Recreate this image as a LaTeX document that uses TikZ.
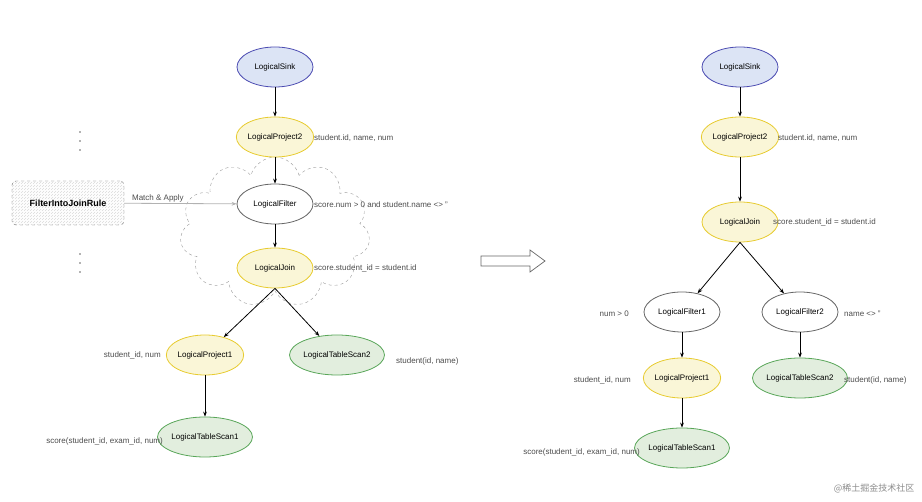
\documentclass[tikz,border=0pt]{standalone}
\usepackage{fontspec}
\setmainfont{Liberation Sans}
\newfontfamily\cjk{Noto Sans CJK SC}
\usetikzlibrary{shapes.symbols,shapes.geometric,arrows.meta,patterns}
\definecolor{sinkblue}{RGB}{220,228,245}
\definecolor{projyellow}{RGB}{250,246,215}
\definecolor{scangreen}{RGB}{226,238,222}
\tikzstyle{n}=[ellipse,draw=black!70,line width=0.8pt,minimum width=76pt,minimum height=40pt,inner sep=0pt,font=\footnotesize]
\tikzstyle{sink}=[n,fill=sinkblue,draw=blue!40!gray]
\tikzstyle{proj}=[n,fill=projyellow,draw=yellow!60!brown]
\tikzstyle{scan}=[n,fill=scangreen,draw=green!30!gray]
\tikzstyle{filt}=[n,fill=white,draw=black!60]
\tikzstyle{lbl}=[font=\footnotesize,text=black!70,inner sep=1pt]
\tikzstyle{e}=[-{Stealth[length=5pt]},line width=0.8pt]
\begin{document}
\begin{tikzpicture}[x=1pt,y=-1pt]
  \useasboundingbox (0,0) rectangle (922,502);

  % left tree
  \node[cloud,cloud puffs=11,aspect=1.3,draw=black!40,dashed,minimum width=190pt,minimum height=150pt] (cloud) at (275,232) {};
  \node[sink] (lsink) at (275,67) {LogicalSink};
  \node[proj] (lproj2) at (275,137) {LogicalProject2};
  \node[filt] (lfilter) at (275,204) {LogicalFilter};
  \node[proj] (ljoin) at (275,268) {LogicalJoin};
  \node[proj] (lproj1) at (205,355) {LogicalProject1};
  \node[scan] (lscan2) at (337,355) {LogicalTableScan2};
  \node[scan] (lscan1) at (205,437) {LogicalTableScan1};

  \node[lbl,anchor=west] at (313,138) {student.id, name, num};
  \node[lbl,anchor=west] at (313,205) {score.num > 0 and student.name <> ''};
  \node[lbl,anchor=west] at (313,268) {score.student\_id = student.id};
  \node[lbl,anchor=east] at (162,355) {student\_id, num};
  \node[lbl,anchor=west] at (395,361) {student(id, name)};
  \node[lbl,anchor=east] at (164,441) {score(student\_id, exam\_id, num)};

  \draw[e] (lsink) -- (lproj2);
  \draw[e] (lproj2) -- (lfilter);
  \draw[e] (lfilter) -- (ljoin);
  \draw[e] (ljoin.south) -- (lproj1);
  \draw[e] (ljoin.south) -- (lscan2);
  \draw[e] (lproj1) -- (lscan1);

  % rule
  \node[draw=black!60,dashed,rounded corners=4pt,pattern=north east lines,pattern color=black!15,minimum width=112pt,minimum height=44pt,font=\small\bfseries] (rule) at (68,203) {FilterIntoJoinRule};
  \draw[-{Stealth[length=5pt]},black!30,line width=0.8pt] (rule) -- node[lbl,above,pos=0.3] {Match \& Apply} (lfilter);
  \foreach \y in {132,141,150,254,263,272}
    \fill[black!60] (80,\y) circle (0.8pt);

  % transform arrow
  \draw[black!60,line width=0.7pt] (481,256) -- (530,256) -- (530,250) -- (545,261) -- (530,272) -- (530,266) -- (481,266) -- cycle;

  % right tree
  \node[sink] (rsink) at (740,67) {LogicalSink};
  \node[proj] (rproj2) at (740,137) {LogicalProject2};
  \node[proj] (rjoin) at (740,222) {LogicalJoin};
  \node[filt] (rfilter1) at (682,312) {LogicalFilter1};
  \node[filt] (rfilter2) at (800,312) {LogicalFilter2};
  \node[proj] (rproj1) at (682,378) {LogicalProject1};
  \node[scan] (rscan2) at (800,378) {LogicalTableScan2};
  \node[scan] (rscan1) at (682,448) {LogicalTableScan1};

  \node[lbl,anchor=west] at (777,138) {student.id, name, num};
  \node[lbl,anchor=west] at (772,222) {score.student\_id = student.id};
  \node[lbl,anchor=east] at (630,314) {num > 0};
  \node[lbl,anchor=west] at (843,314) {name <> ''};
  \node[lbl,anchor=east] at (632,380) {student\_id, num};
  \node[lbl,anchor=west] at (843,380) {student(id, name)};
  \node[lbl,anchor=east] at (641,452) {score(student\_id, exam\_id, num)};

  \draw[e] (rsink) -- (rproj2);
  \draw[e] (rproj2) -- (rjoin);
  \draw[e] (rjoin.south) -- (rfilter1);
  \draw[e] (rjoin.south) -- (rfilter2);
  \draw[e] (rfilter1) -- (rproj1);
  \draw[e] (rfilter2) -- (rscan2);
  \draw[e] (rproj1) -- (rscan1);

  \node[font=\cjk\small,text=black!45,anchor=east] at (918,488) {@稀土掘金技术社区};
\end{tikzpicture}
\end{document}
